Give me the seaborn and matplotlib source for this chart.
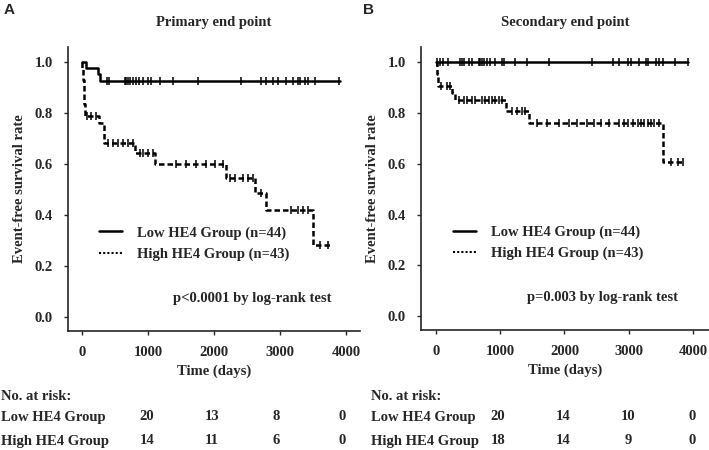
import numpy as np
import pandas as pd
import matplotlib
matplotlib.use("Agg")
import matplotlib.pyplot as plt
import seaborn as sns
from matplotlib.lines import Line2D

sns.set_style("ticks")
plt.rcParams['font.family'] = ['Liberation Serif', 'DejaVu Serif']
plt.rcParams['font.weight'] = 'bold'

# Panel A - primary end point (step times in days, survival after step)
a_low_t = [0, 60, 240, 270]
a_low_s = [1.0, 0.977, 0.953, 0.928]
a_low_end = 3900
a_low_cens = [379, 409, 646, 672, 697, 732, 773, 813, 864, 924, 1000, 1050, 1177,
              1379, 1758, 2414, 2717, 2793, 2894, 2970, 3096, 3197, 3273, 3298,
              3374, 3424, 3525, 3894]

a_high_t = [0, 5, 15, 25, 35, 50, 258, 333, 798, 1101, 2177, 2616, 2793, 3500]
a_high_s = [1.0, 0.977, 0.93, 0.884, 0.836, 0.79, 0.763, 0.682, 0.643, 0.600,
            0.546, 0.487, 0.422, 0.282]
a_high_end = 3753
a_high_cens = [76, 141, 207, 394, 470, 545, 621, 697, 773, 874, 924, 1000, 1076,
               1429, 1581, 1732, 1884, 2010, 2136, 2237, 2313, 2439, 2515, 2591,
               2717, 3172, 3273, 3348, 3424, 3601, 3727]

# Panel B - secondary end point
b_low_t = [0]
b_low_s = [1.0]
b_low_end = 3922
b_low_cens = [21, 63, 104, 193, 375, 402, 428, 506, 558, 662, 688, 714, 740, 793,
              845, 923, 1027, 1053, 1236, 1419, 1757, 2435, 2748, 2853, 2983, 3035,
              3166, 3270, 3296, 3426, 3478, 3531, 3713, 3922]

b_high_t = [0, 10, 20, 30, 245, 297, 1090, 1445, 3541]
b_high_s = [1.0, 0.977, 0.953, 0.906, 0.877, 0.853, 0.806, 0.760, 0.608]
b_high_end = 3844
b_high_cens = [78, 167, 219, 360, 428, 480, 558, 610, 714, 767, 819, 871, 923, 975,
               1027, 1184, 1262, 1340, 1392, 1575, 1731, 1914, 2070, 2201, 2357,
               2462, 2566, 2696, 2853, 2931, 2983, 3061, 3140, 3192, 3244, 3296,
               3348, 3400, 3478, 3661, 3765, 3844]

a_risk_low = [20, 13, 8, 0]
a_risk_high = [14, 11, 6, 0]
b_risk_low = [20, 14, 10, 0]
b_risk_high = [18, 14, 9, 0]

FS = 10.5


def km_curve(ax, t, s, end, cens, ls):
    t2 = list(t) + [end]
    s2 = list(s) + [s[-1]]
    df = pd.DataFrame({'time': t2, 'surv': s2})
    sns.lineplot(data=df, x='time', y='surv', drawstyle='steps-post', estimator=None,
                 color='black', lw=1.8, linestyle=ls, ax=ax)
    # censor marks sit on the curve at that time
    idx = np.searchsorted(t, cens, side='right') - 1
    cdf = pd.DataFrame({'time': cens, 'surv': np.array(s)[idx]})
    sns.scatterplot(data=cdf, x='time', y='surv', marker='|', s=36, color='black',
                    linewidth=1.1, ax=ax)


fig = plt.figure(figsize=(7.09, 4.5), dpi=100)
axA = fig.add_axes([68 / 709, 119 / 450, 292 / 709, 284 / 450])
axB = fig.add_axes([421 / 709, 120 / 450, 288 / 709, 283 / 450])

panels = [
    (axA, a_low_t, a_low_s, a_low_end, a_low_cens, a_high_t, a_high_s, a_high_end,
     a_high_cens, "Primary end point", "p<0.0001 by log-rank test", (-212, 4210), 0.085),
    (axB, b_low_t, b_low_s, b_low_end, b_low_cens, b_high_t, b_high_s, b_high_end,
     b_high_cens, "Secondary end point", "p=0.003 by log-rank test", (-234, 4250), 0.09),
]

for (ax, lt, ls_, le, lc, ht, hs, he, hc, title, ptxt, xl, legx) in panels:
    km_curve(ax, lt, ls_, le, lc, '-')
    km_curve(ax, ht, hs, he, hc, (0, (2.2, 1.2)))
    ax.set_xlim(*xl)
    ax.set_ylim(-0.055, 1.06)
    ax.set_xticks([0, 1000, 2000, 3000, 4000])
    ax.set_yticks([0.0, 0.2, 0.4, 0.6, 0.8, 1.0])
    ax.set_yticklabels(["0.0", "0.2", "0.4", "0.6", "0.8", "1.0"])
    ax.tick_params(labelsize=FS, length=3, width=1, pad=8)
    for lab in ax.get_xticklabels() + ax.get_yticklabels():
        lab.set_fontweight('bold')
    ax.set_xlabel("Time (days)", fontsize=FS, fontweight='bold', labelpad=4)
    ax.set_ylabel("Event-free survival rate", fontsize=FS, fontweight='bold', labelpad=6)
    ax.set_title(title, fontsize=FS, fontweight='bold', pad=15)
    ax.text(0.63, 0.115, ptxt, transform=ax.transAxes, ha='center', va='center',
            fontsize=FS, fontweight='bold')
    handles = [Line2D([], [], color='black', lw=1.8, linestyle='-'),
               Line2D([], [], color='black', lw=1.5, linestyle=(0, (1, 1)))]
    ax.legend(handles, ["Low HE4 Group (n=44)", "High HE4 Group (n=43)"],
              loc='upper left', bbox_to_anchor=(legx, 0.39), frameon=False,
              handlelength=1.6, handletextpad=1.0, labelspacing=0.55,
              prop={'weight': 'bold', 'size': FS}, borderaxespad=0)
    sns.despine(ax=ax)
    for sp in ax.spines.values():
        sp.set_linewidth(1.2)

# panel letters
fig.text(4 / 709, 1 - 10 / 450, "A", family='Liberation Sans', fontweight='bold',
         fontsize=11, va='center')
fig.text(363 / 709, 1 - 10 / 450, "B", family='Liberation Sans', fontweight='bold',
         fontsize=11, va='center')

# number at risk tables
rows_y = [1 - 397 / 450, 1 - 417 / 450, 1 - 441 / 450]
for x0, xs, low, high in [(1, [147, 212, 276, 342], a_risk_low, a_risk_high),
                          (371, [498, 563, 628, 692], b_risk_low, b_risk_high)]:
    fig.text(x0 / 709, rows_y[0], "No. at risk:", fontsize=FS, fontweight='bold', va='center')
    fig.text(x0 / 709, rows_y[1], "Low HE4 Group", fontsize=FS, fontweight='bold', va='center')
    fig.text(x0 / 709, rows_y[2], "High HE4 Group", fontsize=FS, fontweight='bold', va='center')
    for xp, v1, v2 in zip(xs, low, high):
        fig.text(xp / 709, rows_y[1], str(v1), fontsize=FS, fontweight='bold',
                 va='center', ha='center')
        fig.text(xp / 709, rows_y[2], str(v2), fontsize=FS, fontweight='bold',
                 va='center', ha='center')

fig.savefig("out.png", dpi=100)
